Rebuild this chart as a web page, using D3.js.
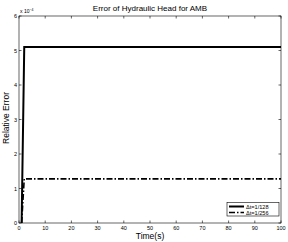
<!DOCTYPE html>
<html><head><meta charset="utf-8">
<script src="https://cdn.jsdelivr.net/npm/d3@7"></script>
<style>body{margin:0;background:#fff}svg{display:block}text{font-family:"Liberation Sans",Arial,sans-serif;fill:#000}</style>
</head><body>
<script>
const timeA = [1, 2, 100];
const errA = [0, 5.1e-4, 5.1e-4];
const timeB = [1, 2, 100];
const errB = [0, 1.28e-4, 1.28e-4];
const xTicks = [0,10,20,30,40,50,60,70,80,90,100];
const yTicks = [0,1,2,3,4,5,6];
const legendLabels = ["\u0394t=1/128","\u0394t=1/256"];

const W=288,H=242, L=19,R=281,T=16,B=223;
const svg=d3.select("body").append("svg").attr("width",W).attr("height",H);
const x=d3.scaleLinear().domain([0,100]).range([L,R]);
const y=d3.scaleLinear().domain([0,6e-4]).range([B,T]);
const ys=d3.scaleLinear().domain([0,6]).range([B,T]);

svg.append("rect").attr("x",L).attr("y",T).attr("width",R-L).attr("height",B-T).attr("fill","#fff").attr("stroke","#000").attr("stroke-width",0.6);
const tl=2.5;
const g=svg.append("g").attr("stroke","#000").attr("stroke-width",0.6);
xTicks.forEach(v=>{g.append("line").attr("x1",x(v)).attr("x2",x(v)).attr("y1",B).attr("y2",B-tl);
 g.append("line").attr("x1",x(v)).attr("x2",x(v)).attr("y1",T).attr("y2",T+tl);});
yTicks.forEach(v=>{g.append("line").attr("x1",L).attr("x2",L+tl).attr("y1",ys(v)).attr("y2",ys(v));
 g.append("line").attr("x1",R).attr("x2",R-tl).attr("y1",ys(v)).attr("y2",ys(v));});
svg.selectAll(".xt").data(xTicks).enter().append("text").attr("x",d=>x(d)).attr("y",B+6.5).attr("text-anchor","middle").attr("font-size",5.5).text(d=>d);
svg.selectAll(".yt").data(yTicks).enter().append("text").attr("x",L-2).attr("y",d=>ys(d)+2).attr("text-anchor","end").attr("font-size",5.5).text(d=>d);
const ex=svg.append("text").attr("x",L+1).attr("y",T-3).attr("font-size",5).text("x 10");
ex.append("tspan").attr("dy",-2.5).attr("font-size",3.5).text("\u22124");

const line=d3.line().x(d=>x(d[0])).y(d=>y(d[1]));
svg.append("path").datum(timeA.map((t,i)=>[t,errA[i]])).attr("d",line).attr("fill","none").attr("stroke","#000").attr("stroke-width",2);
svg.append("path").datum(timeB.map((t,i)=>[t,errB[i]])).attr("d",line).attr("fill","none").attr("stroke","#000").attr("stroke-width",1.6).attr("stroke-dasharray","6,2,1.5,2");

const lg=svg.append("g");
lg.append("rect").attr("x",227).attr("y",202.5).attr("width",52).attr("height",13.5).attr("fill","#fff").attr("stroke","#000").attr("stroke-width",0.6);
lg.append("line").attr("x1",229).attr("x2",244).attr("y1",206.5).attr("y2",206.5).attr("stroke","#000").attr("stroke-width",2);
lg.append("line").attr("x1",229).attr("x2",244).attr("y1",212.5).attr("y2",212.5).attr("stroke","#000").attr("stroke-width",1.6).attr("stroke-dasharray","6,2,1.5,2");
legendLabels.forEach((s,i)=>lg.append("text").attr("x",246).attr("y",208.5+i*6).attr("font-size",5.6).text(s));

svg.append("text").attr("x",(L+R)/2).attr("y",11).attr("text-anchor","middle").attr("font-size",8).text("Error of Hydraulic Head for AMB");
svg.append("text").attr("x",(L+R)/2).attr("y",239).attr("text-anchor","middle").attr("font-size",8.5).text("Time(s)");
svg.append("text").attr("transform","translate(9,118) rotate(-90)").attr("text-anchor","middle").attr("font-size",8.5).text("Relative Error");
</script>
</body></html>
